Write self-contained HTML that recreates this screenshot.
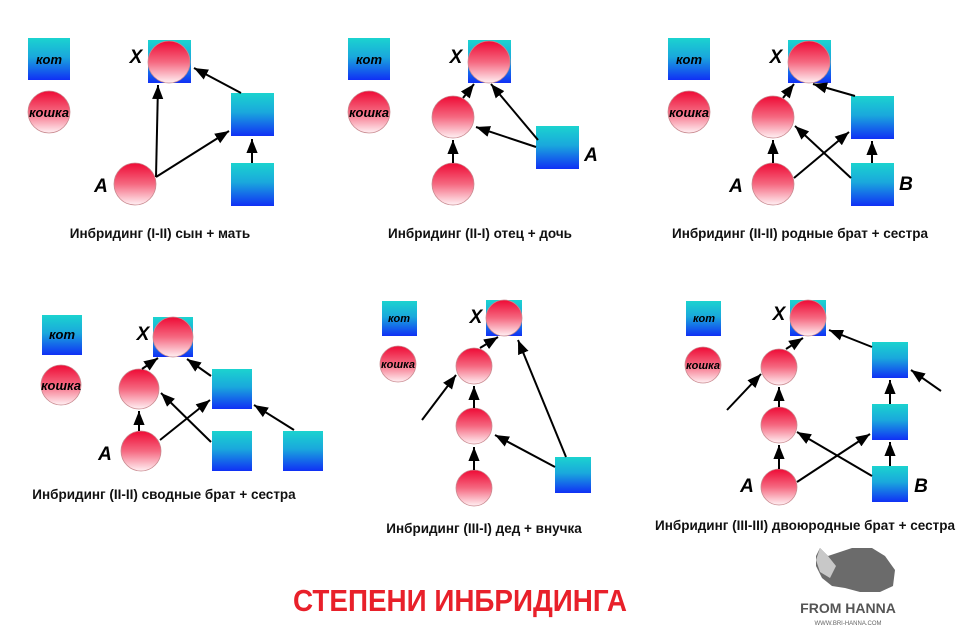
<!DOCTYPE html>
<html><head><meta charset="utf-8"><style>
html,body{margin:0;padding:0;background:#fff;}
svg{display:block;}
text{font-family:"Liberation Sans",sans-serif;}
</style></head><body>
<svg width="960" height="643" viewBox="0 0 960 643" xmlns="http://www.w3.org/2000/svg">
<defs>
<linearGradient id="sq" x1="0" y1="0" x2="0" y2="1"><stop offset="0" stop-color="#1bd3cf"/><stop offset="0.45" stop-color="#1aa8dc"/><stop offset="1" stop-color="#1030f5"/></linearGradient>
<linearGradient id="ci" x1="0" y1="0" x2="0" y2="1"><stop offset="0" stop-color="#ee0a35"/><stop offset="0.5" stop-color="#f56880"/><stop offset="1" stop-color="#fff0f3"/></linearGradient>
<marker id="ar" viewBox="0 0 10 10" refX="10" refY="5" markerWidth="7" markerHeight="7" orient="auto"><path d="M0,1 L10,5 L0,9 z" fill="#000"/></marker>
</defs>
<style>
.s{fill:url(#sq)}
.c{fill:url(#ci);stroke:#c98a90;stroke-width:0.8}
.l{stroke:#000;stroke-width:2;fill:none;marker-end:url(#ar)}
.lg{font-weight:bold;font-style:italic;font-size:13px;fill:#000;text-anchor:middle}
.lgs{font-weight:bold;font-style:italic;font-size:11px;fill:#000;text-anchor:middle}
.lb{font-weight:bold;font-style:italic;font-size:19px;fill:#000;text-anchor:middle}
.cap{font-weight:bold;font-size:13.5px;fill:#111;text-anchor:middle}
</style>

<!-- Panel 1 -->
<rect class="s" x="28" y="38" width="42" height="42"/><text class="lg" x="49" y="64">кот</text>
<circle class="c" cx="49" cy="112" r="21"/><text class="lg" x="49" y="117">кошка</text>
<rect class="s" x="148" y="40" width="43" height="43"/><circle class="c" cx="169" cy="62" r="21"/>
<text class="lb" x="136" y="63">X</text>
<rect class="s" x="231" y="93" width="43" height="43"/>
<rect class="s" x="231" y="163" width="43" height="43"/>
<circle class="c" cx="135" cy="184" r="21"/><text class="lb" x="101" y="192">A</text>
<line class="l" x1="156" y1="177" x2="158" y2="85"/>
<line class="l" x1="156" y1="177" x2="229" y2="131"/>
<line class="l" x1="252" y1="163" x2="252" y2="139"/>
<line class="l" x1="241" y1="93" x2="194" y2="68"/>
<text class="cap" x="160" y="238">Инбридинг (I-II) сын + мать</text>

<!-- Panel 2 -->
<rect class="s" x="348" y="38" width="42" height="42"/><text class="lg" x="369" y="64">кот</text>
<circle class="c" cx="369" cy="112" r="21"/><text class="lg" x="369" y="117">кошка</text>
<rect class="s" x="468" y="40" width="43" height="43"/><circle class="c" cx="489" cy="62" r="21"/>
<text class="lb" x="456" y="63">X</text>
<circle class="c" cx="453" cy="117" r="21"/>
<circle class="c" cx="453" cy="184" r="21"/>
<rect class="s" x="536" y="126" width="43" height="43"/><text class="lb" x="591" y="161">A</text>
<line class="l" x1="453" y1="163" x2="453" y2="140"/>
<line class="l" x1="536" y1="147" x2="476" y2="127"/>
<line class="l" x1="538" y1="140" x2="491" y2="84"/>
<line class="l" x1="463" y1="98" x2="474" y2="84"/>
<text class="cap" x="480" y="238">Инбридинг (II-I) отец + дочь</text>

<!-- Panel 3 -->
<rect class="s" x="668" y="38" width="42" height="42"/><text class="lg" x="689" y="64">кот</text>
<circle class="c" cx="689" cy="112" r="21"/><text class="lg" x="689" y="117">кошка</text>
<rect class="s" x="788" y="40" width="43" height="43"/><circle class="c" cx="809" cy="62" r="21"/>
<text class="lb" x="776" y="63">X</text>
<circle class="c" cx="773" cy="117" r="21"/>
<rect class="s" x="851" y="96" width="43" height="43"/>
<circle class="c" cx="773" cy="184" r="21"/><text class="lb" x="736" y="192">A</text>
<rect class="s" x="851" y="163" width="43" height="43"/><text class="lb" x="906" y="190">B</text>
<line class="l" x1="773" y1="163" x2="773" y2="140"/>
<line class="l" x1="794" y1="178" x2="849" y2="132"/>
<line class="l" x1="851" y1="178" x2="795" y2="126"/>
<line class="l" x1="872" y1="163" x2="872" y2="141"/>
<line class="l" x1="783" y1="98" x2="794" y2="84"/>
<line class="l" x1="855" y1="96" x2="813" y2="84"/>
<text class="cap" x="800" y="238">Инбридинг (II-II) родные брат + сестра</text>

<!-- Panel 4 -->
<rect class="s" x="42" y="315" width="40" height="40"/><text class="lg" x="62" y="339">кот</text>
<circle class="c" cx="61" cy="385" r="20"/><text class="lg" x="61" y="390">кошка</text>
<rect class="s" x="153" y="317" width="40" height="40"/><circle class="c" cx="173" cy="337" r="20"/>
<text class="lb" x="143" y="340">X</text>
<circle class="c" cx="139" cy="389" r="20"/>
<rect class="s" x="212" y="369" width="40" height="40"/>
<circle class="c" cx="141" cy="451" r="20"/><text class="lb" x="105" y="460">A</text>
<rect class="s" x="212" y="431" width="40" height="40"/>
<rect class="s" x="283" y="431" width="40" height="40"/>
<line class="l" x1="139" y1="431" x2="139" y2="411"/>
<line class="l" x1="160" y1="440" x2="210" y2="400"/>
<line class="l" x1="211" y1="442" x2="161" y2="393"/>
<line class="l" x1="294" y1="430" x2="254" y2="405"/>
<line class="l" x1="142" y1="369" x2="158" y2="358"/>
<line class="l" x1="211" y1="376" x2="187" y2="359"/>
<text class="cap" x="164" y="499">Инбридинг (II-II) сводные брат + сестра</text>

<!-- Panel 5 -->
<rect class="s" x="382" y="301" width="35" height="35"/><text class="lgs" x="399" y="322">кот</text>
<circle class="c" cx="398" cy="364" r="18"/><text class="lgs" x="398" y="368">кошка</text>
<rect class="s" x="486" y="300" width="36" height="36"/><circle class="c" cx="504" cy="318" r="18"/>
<text class="lb" x="476" y="323">X</text>
<circle class="c" cx="474" cy="366" r="18"/>
<circle class="c" cx="474" cy="426" r="18"/>
<circle class="c" cx="474" cy="488" r="18"/>
<rect class="s" x="555" y="457" width="36" height="36"/>
<line class="l" x1="422" y1="420" x2="456" y2="375"/>
<line class="l" x1="474" y1="408" x2="474" y2="386"/>
<line class="l" x1="474" y1="470" x2="474" y2="447"/>
<line class="l" x1="555" y1="467" x2="495" y2="435"/>
<line class="l" x1="566" y1="457" x2="518" y2="340"/>
<line class="l" x1="480" y1="348" x2="498" y2="337"/>
<text class="cap" x="484" y="533">Инбридинг (III-I) дед + внучка</text>

<!-- Panel 6 -->
<rect class="s" x="686" y="301" width="35" height="35"/><text class="lgs" x="704" y="322">кот</text>
<circle class="c" cx="703" cy="365" r="18"/><text class="lgs" x="703" y="369">кошка</text>
<rect class="s" x="790" y="300" width="36" height="36"/><circle class="c" cx="808" cy="318" r="18"/>
<text class="lb" x="779" y="320">X</text>
<circle class="c" cx="779" cy="367" r="18"/>
<circle class="c" cx="779" cy="425" r="18"/>
<circle class="c" cx="779" cy="487" r="18"/><text class="lb" x="747" y="492">A</text>
<rect class="s" x="872" y="342" width="36" height="36"/>
<rect class="s" x="872" y="404" width="36" height="36"/>
<rect class="s" x="872" y="466" width="36" height="36"/><text class="lb" x="921" y="492">B</text>
<line class="l" x1="727" y1="410" x2="761" y2="374"/>
<line class="l" x1="941" y1="391" x2="911" y2="370"/>
<line class="l" x1="779" y1="407" x2="779" y2="387"/>
<line class="l" x1="779" y1="469" x2="779" y2="445"/>
<line class="l" x1="797" y1="482" x2="870" y2="434"/>
<line class="l" x1="872" y1="476" x2="797" y2="432"/>
<line class="l" x1="890" y1="466" x2="890" y2="442"/>
<line class="l" x1="890" y1="404" x2="890" y2="380"/>
<line class="l" x1="786" y1="349" x2="803" y2="338"/>
<line class="l" x1="872" y1="347" x2="829" y2="330"/>
<text class="cap" x="805" y="530">Инбридинг (III-III) двоюродные брат + сестра</text>

<!-- Title -->
<text x="293" y="611" textLength="334" lengthAdjust="spacingAndGlyphs" font-weight="bold" font-size="31" fill="#e8202a" style="font-family:'Liberation Sans',sans-serif">СТЕПЕНИ ИНБРИДИНГА</text>

<!-- Logo -->
<g>
<path d="M820,548 L828,556 L840,552 L852,548 L872,548 L885,556 L895,570 L893,586 L880,592 L860,592 L845,588 L832,586 L822,578 L816,566 L816,556 Z" fill="#6b6b6b"/>
<path d="M820,548 L828,556 L836,566 L830,578 L820,572 L816,560 Z" fill="#c8c8c8"/>
</g>
<text x="848" y="613" text-anchor="middle" font-weight="bold" font-size="14" fill="#555">FROM HANNA</text>
<text x="848" y="625" text-anchor="middle" font-size="6" fill="#666">WWW.BRI-HANNA.COM</text>
</svg>
</body></html>
